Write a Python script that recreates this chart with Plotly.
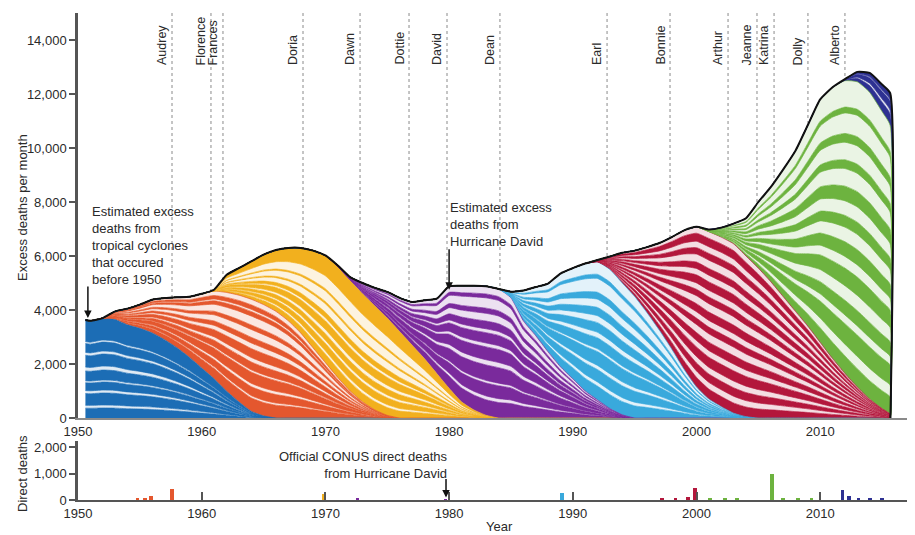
import plotly.graph_objects as go

# ---------------- data ----------------
years = [1950.6] + list(range(1951, 2016)) + [2015.65, 2015.68]

group_names = ["blue", "orange", "yellow", "purple", "lightblue", "red", "green", "navy"]
group_colors = ["#1c6db5", "#e4572e", "#f2b01e", "#7a2a9c", "#39a9dc", "#b3173c", "#6db33f", "#2e3192"]

# excess deaths per month contributed by each storm cohort (stack thickness), from start year on
blue_start, blue_vals = 1950.6, [3630, 3600, 3700, 3650, 3450, 3320, 3150, 2900, 2600, 2250, 1850, 1450,
                                 1000, 600, 250, 80, 0]
orange_start, orange_vals = 1952, [0, 300, 600, 880, 1230, 1540, 1870, 2240, 2750, 3250,
                                   3650, 3950, 4150, 4120, 3950, 3600, 3150, 2600, 2050, 1500,
                                   1000, 600, 300, 100, 0]
yellow_start, yellow_vals = 1960, [0, 50, 650, 1000, 1400, 1850, 2270, 2700, 3150, 3600,
                                   3970, 4100, 4100, 4000, 3850, 3600, 3200, 2700, 2200, 1650,
                                   1100, 600, 300, 100, 0]
purple_start, purple_vals = 1970, [0, 50, 120, 400, 670, 970, 1250, 1600, 2160, 2770,
                                   3780, 4300, 4600, 4780, 4780, 4450, 3600, 3050, 2450, 1900,
                                   1450, 1000, 670, 350, 120, 0]
lightblue_start, lightblue_vals = 1984, [0, 230, 1120, 1800, 2530, 3450, 4100, 4720, 5110, 5150,
                                         4880, 4500, 3900, 3250, 2550, 1800, 1150, 700, 420, 180,
                                         50, 0]
red_start, red_vals = 1991, [0, 70, 480, 1120, 1700, 2430, 3230, 4150, 5150, 5930,
                             6200, 6280, 6270, 5950, 5550, 5050, 4500, 3950, 3400, 2800,
                             2200, 1650, 1150, 700, 350, 150, 0]
green_start, green_vals = 2000, [0, 80, 350, 750, 1400, 2450, 3500, 4700, 5950, 7450,
                                 9000, 10050, 10840, 11300, 11360, 11000, 10690, 0]
navy_start, navy_vals = 2011, [0, 60, 370, 720, 1000, 1200, 0]

# individual-storm band shares inside each cohort (bottom -> top); even = solid, odd = light
blue_shares = [.10, .03, .12, .03, .08, .02, .10, .04, .12, .03, .09, .02, .22]
orange_shares = [.12, .02, .08, .03, .10, .02, .07, .04, .08, .05, .05, .07, .04, .08, .04, .02, .04, .05]
yellow_shares = [.08, .03, .07, .03, .06, .04, .08, .03, .05, .08, .02, .10, .02, .12, .19]
purple_shares = [.12, .03, .10, .02, .12, .04, .10, .03, .08, .03, .06, .06, .04, .08, .03, .06]
lightblue_shares = [.10, .03, .09, .03, .10, .02, .08, .04, .07, .05, .06, .06, .05, .10, .03, .09]
red_shares = [.06, .04, .05, .04, .06, .04, .05, .05, .04, .04, .05, .05, .04, .04, .05, .04, .04, .05,
              .04, .04, .05, .04]
green_shares = [.06, .04, .07, .03, .05, .05, .06, .04, .05, .05, .04, .05, .05, .06, .03, .06, .03, .07,
                .02, .09]
navy_shares = [.35, .12, .28, .05, .20]

storm_names = ["Audrey", "Florence", "Frances", "Doria", "Dawn", "Dottie", "David", "Dean",
               "Earl", "Bonnie", "Arthur", "Jeanne", "Katrina", "Dolly", "Alberto"]
storm_years = [1957.6, 1960.75, 1961.72, 1968.19, 1972.8, 1976.76, 1979.83, 1984.11,
               1992.77, 1997.86, 2002.55, 2004.89, 2006.27, 2009.01, 2012.0]

# official direct deaths (bottom panel)
dd_years = [1954.8, 1955.4, 1955.9, 1957.6, 1969.9, 1972.6, 1979.7, 1989.1, 1997.2, 1998.3, 1999.3,
            1999.85, 2001.1, 2002.3, 2003.3, 2006.1, 2007.0, 2008.2, 2009.3, 2011.8, 2012.3, 2013.1,
            2014.0, 2015.0]
dd_vals = [50, 90, 160, 400, 230, 80, 20, 280, 60, 60, 100, 440, 50, 70, 60, 1000, 60, 50, 40, 380,
           150, 80, 60, 50]
dd_group = ["orange", "orange", "orange", "orange", "yellow", "purple", "purple", "lightblue", "red",
            "red", "red", "red", "green", "green", "green", "green", "green", "green", "green", "navy",
            "navy", "navy", "navy", "navy"]

x_ticks = [1950, 1960, 1970, 1980, 1990, 2000, 2010]
y_ticks = [0, 2000, 4000, 6000, 8000, 10000, 12000, 14000]
y2_ticks = [0, 1000, 2000]

# ---------------- helpers ----------------
FONT = "Liberation Sans, Arial, sans-serif"
TXT = "#2a2a2a"
OFF = 8                      # page body margin offset
W, H = 915, 535
ML, MR = 78 - OFF, OFF       # plot area spans screen x 78..915
PW = W - ML - MR


def px(xs):
    return (xs - OFF - ML) / PW


def py(ys):
    return 1 - (ys - OFF) / H


def pad(start, vals):
    i0 = years.index(start)
    out = [0] * len(years)
    for k, v in enumerate(vals):
        out[i0 + k] = v
    return out


def tint(hexc, f):
    h = hexc.lstrip("#")
    r, g, b = (int(h[i:i + 2], 16) for i in (0, 2, 4))
    return "rgb(%d,%d,%d)" % (255 - (255 - r) * f, 255 - (255 - g) * f, 255 - (255 - b) * f)


groups = [
    (blue_start, blue_vals, blue_shares),
    (orange_start, orange_vals, orange_shares),
    (yellow_start, yellow_vals, yellow_shares),
    (purple_start, purple_vals, purple_shares),
    (lightblue_start, lightblue_vals, lightblue_shares),
    (red_start, red_vals, red_shares),
    (green_start, green_vals, green_shares),
    (navy_start, navy_vals, navy_shares),
]

fig = go.Figure()

for (start, vals, shares), col in zip(groups, group_colors):
    full = pad(start, vals)
    for k, s in enumerate(shares):
        solid = (k % 2 == 0)
        fig.add_trace(go.Scatter(
            x=years, y=[v * s for v in full], stackgroup="excess", mode="lines",
            line=dict(color=col, width=0.7, shape="spline", smoothing=0.5),
            fillcolor=col if solid else tint(col, 0.14),
            hoverinfo="skip", showlegend=False))

# black outline on top of the stack
fig.add_trace(go.Scatter(
    x=years, y=[0] * len(years), stackgroup="excess", mode="lines",
    line=dict(color="#111111", width=2, shape="spline", smoothing=0.5),
    fillcolor="rgba(0,0,0,0)", hoverinfo="skip", showlegend=False))

# direct deaths bars
cmap = dict(zip(group_names, group_colors))
fig.add_trace(go.Bar(x=dd_years, y=dd_vals, marker_color=[cmap[g] for g in dd_group],
                     marker_line_width=0, width=0.3, xaxis="x2", yaxis="y2",
                     hoverinfo="skip", showlegend=False))

# storm marker lines and names
for name, yr in zip(storm_names, storm_years):
    fig.add_shape(type="line", xref="x", yref="y", x0=yr, x1=yr, y0=0, y1=15000,
                  line=dict(color="#8a8a8a", width=1, dash="dot"), layer="below")
    fig.add_annotation(x=yr, y=13000, xref="x", yref="y", text=name, textangle=-90,
                       xanchor="right", yanchor="bottom", xshift=-1, showarrow=False,
                       font=dict(family=FONT, size=12.5, color=TXT))

# text annotations
fig.add_annotation(xref="paper", yref="paper", x=px(90), y=py(202),
                   text="Estimated excess<br>deaths from<br>tropical cyclones<br>that occured<br>before 1950",
                   align="left", xanchor="left", yanchor="top", showarrow=False,
                   font=dict(family=FONT, size=13, color=TXT))
fig.add_annotation(x=1950.8, y=3700, xref="x", yref="y", ax=0, ay=-33, text="",
                   showarrow=True, arrowhead=2, arrowsize=1, arrowwidth=1.5, arrowcolor="#111")

fig.add_annotation(xref="paper", yref="paper", x=px(448), y=py(198),
                   text="Estimated excess<br>deaths from<br>Hurricane David",
                   align="left", xanchor="left", yanchor="top", showarrow=False,
                   font=dict(family=FONT, size=13, color=TXT))
fig.add_annotation(x=1980.0, y=4750, xref="x", yref="y", ax=0, ay=-42, text="",
                   showarrow=True, arrowhead=2, arrowsize=1, arrowwidth=1.5, arrowcolor="#111")

fig.add_annotation(xref="paper", yref="paper", x=px(450), y=py(447),
                   text="Official CONUS direct deaths<br>from Hurricane David",
                   align="right", xanchor="right", yanchor="top", showarrow=False,
                   font=dict(family=FONT, size=13, color=TXT))
fig.add_annotation(x=1979.75, y=90, xref="x2", yref="y2", ax=0, ay=-20, text="",
                   showarrow=True, arrowhead=2, arrowsize=1, arrowwidth=1.5, arrowcolor="#111")

# axis titles
fig.add_annotation(xref="paper", yref="paper", x=px(22), y=py(208),
                   text="Excess deaths per month", textangle=-90, showarrow=False,
                   xanchor="center", yanchor="middle", font=dict(family=FONT, size=13, color=TXT))
fig.add_annotation(xref="paper", yref="paper", x=px(22), y=py(474),
                   text="Direct deaths", textangle=-90, showarrow=False,
                   xanchor="center", yanchor="middle", font=dict(family=FONT, size=13, color=TXT))
fig.add_annotation(xref="paper", yref="paper", x=px(500), y=py(526),
                   text="Year", showarrow=False, xanchor="center", yanchor="middle",
                   font=dict(family=FONT, size=13, color=TXT))

xr = [1950, 1950 + PW / 12.37]
tick_font = dict(family=FONT, size=13, color=TXT)

fig.update_layout(
    template="none",
    width=W, height=H,
    margin=dict(l=ML, r=MR, t=0, b=0, pad=0),
    paper_bgcolor="white", plot_bgcolor="white",
    showlegend=False, bargap=0,
    xaxis=dict(domain=[0, 1], range=xr, tickvals=x_ticks, ticktext=[str(v) for v in x_ticks],
               showgrid=False, zeroline=False, showline=True, linecolor="#8a8a8a", linewidth=2,
               ticks="", tickfont=tick_font, anchor="y", automargin=False),
    yaxis=dict(domain=[py(418), py(13)], range=[0, 15000], tickvals=y_ticks,
               ticktext=["{:,}".format(v) for v in y_ticks], showgrid=False, zeroline=False,
               showline=True, linecolor="#555555", linewidth=2.5, ticks="outside", ticklen=6,
               tickwidth=2, tickcolor="#555555", tickfont=tick_font, anchor="x", automargin=False),
    xaxis2=dict(domain=[0, 1], range=xr, tickvals=x_ticks, ticktext=[str(v) for v in x_ticks],
                showgrid=False, zeroline=False, showline=True, linecolor="#555555", linewidth=2,
                ticks="inside", ticklen=8, tickwidth=1.5, tickcolor="#555555", tickfont=tick_font,
                anchor="y2", automargin=False),
    yaxis2=dict(domain=[py(500), py(441)], range=[0, 2226], tickvals=y2_ticks,
                ticktext=["{:,}".format(v) for v in y2_ticks], showgrid=False, zeroline=False,
                showline=True, linecolor="#555555", linewidth=2.5, ticks="outside", ticklen=6,
                tickwidth=2, tickcolor="#555555", tickfont=tick_font, anchor="x2", automargin=False),
)

fig.write_html("out.html")
